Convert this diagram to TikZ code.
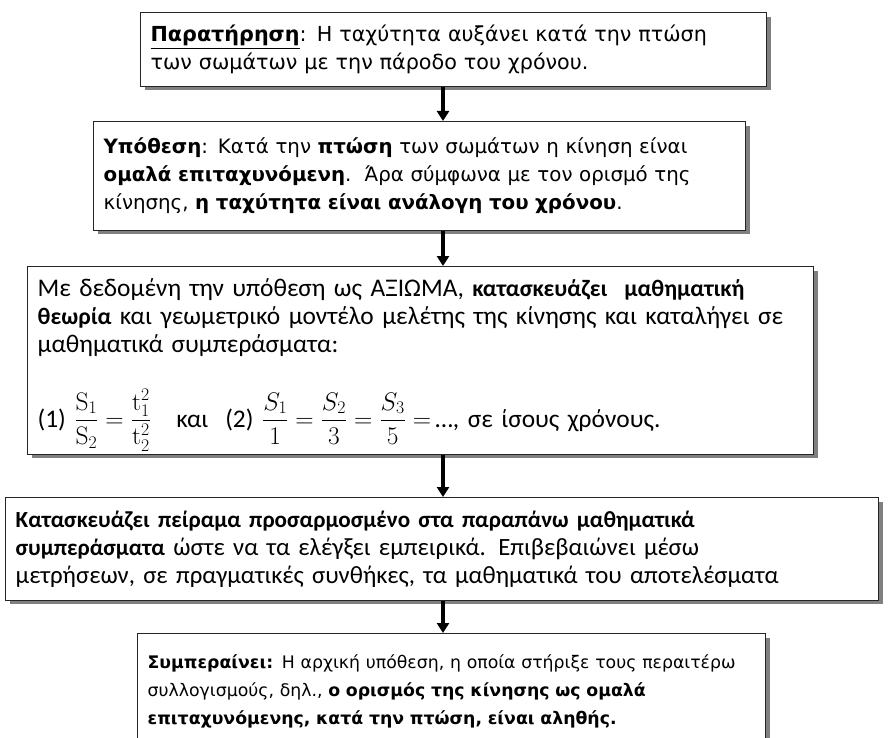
\RequirePackage{fix-cm}
\documentclass[tikz,border=0pt]{standalone}
\usepackage{amsmath}
\usepackage[no-math]{fontspec}
\setmainfont{DejaVu Sans}
\newfontfamily\calibrifont{Carlito}
\newfontfamily\calibribold{Carlito Bold}[Scale=0.93]
\newcommand{\cb}[1]{{\calibribold #1}}
\usetikzlibrary{positioning, arrows.meta, shadows}

\begin{document}
\begin{tikzpicture}[x=1pt, y=-1pt,
  stage/.style={draw=black!85, line width=1.3pt, fill=white, align=left,
                anchor=north west, inner xsep=10pt, inner ysep=9pt,
                drop shadow={shadow xshift=4pt, shadow yshift=-4pt,
                             fill=black!50, opacity=1}},
  verd/.style={font=\fontsize{20.7}{28}\selectfont},
  cal/.style={font=\calibrifont\fontsize{25.4}{28}\selectfont},
  arr/.style={-{Triangle[length=10pt, width=12pt]}, line width=3.5pt, black},
]
\useasboundingbox (0,0) rectangle (894,738);
\clip (0,0) rectangle (894,738);

% --- Stages ---
\node[stage, verd, text width=606pt, text depth=36pt] (obs) at (140,12)
  {\strut\underline{\textbf{Παρατήρηση}}: Η ταχύτητα αυξάνει κατά την πτώση\\
   των σωμάτων με την πάροδο του χρόνου.};

\node[stage, font=\fontsize{19.8}{28}\selectfont, text width=632pt, text depth=65pt,
      inner ysep=12pt] (hyp) at (93,121)
  {\strut\textbf{Υπόθεση}: Κατά την \textbf{πτώση} των σωμάτων η κίνηση είναι\\
   \textbf{ομαλά επιταχυνόμενη}.\ \ Άρα σύμφωνα με τον ορισμό της\\
   κίνησης, \textbf{η ταχύτητα είναι ανάλογη του χρόνου}.};

\node[stage, cal, text width=766pt, text depth=148pt, inner ysep=10pt] (theory) at (27,266)
  {\strut Με δεδομένη την υπόθεση ως ΑΞΙΩΜΑ, \cb{κατασκευάζει\ \ μαθηματική}\\
   \cb{θεωρία} και γεωμετρικό μοντέλο μελέτης της κίνησης και καταλήγει σε\\
   μαθηματικά συμπεράσματα:\\[32pt]
   (1) $\dfrac{\mathrm{S}_1}{\mathrm{S}_2}=\dfrac{\mathrm{t}_1^2}{\mathrm{t}_2^2}$\quad
   και\ \ (2) $\dfrac{S_1}{1}=\dfrac{S_2}{3}=\dfrac{S_3}{5}=$\,…, σε ίσους χρόνους.};

\node[stage, font=\calibrifont\fontsize{24.8}{28}\selectfont, text width=853pt,
      text depth=63pt, inner ysep=10pt] (exp) at (5,497)
  {\strut\cb{Κατασκευάζει πείραμα προσαρμοσμένο στα παραπάνω μαθηματικά}\\
   \cb{συμπεράσματα} ώστε να τα ελέγξει εμπειρικά. Επιβεβαιώνει μέσω\\
   μετρήσεων, σε πραγματικές συνθήκες, τα μαθηματικά του αποτελέσματα};

\node[stage, font=\fontsize{17.3}{28}\selectfont, text width=608pt, text depth=100pt,
      inner ysep=15pt] (concl) at (137,633)
  {\strut\textbf{Συμπεραίνει:} Η αρχική υπόθεση, η οποία στήριξε τους περαιτέρω\\
   συλλογισμούς, δηλ., \textbf{ο ορισμός της κίνησης ως ομαλά}\\
   \textbf{επιταχυνόμενης, κατά την πτώση, είναι αληθής.}};

% --- Arrows ---
\coordinate (spine) at (443,0);
\draw[arr] (obs.south -| spine) -- (hyp.north -| spine);
\draw[arr] (hyp.south -| spine) -- (theory.north -| spine);
\draw[arr] (theory.south -| spine) -- (exp.north -| spine);
\draw[arr] (exp.south -| spine) -- (concl.north -| spine);

\end{tikzpicture}
\end{document}
